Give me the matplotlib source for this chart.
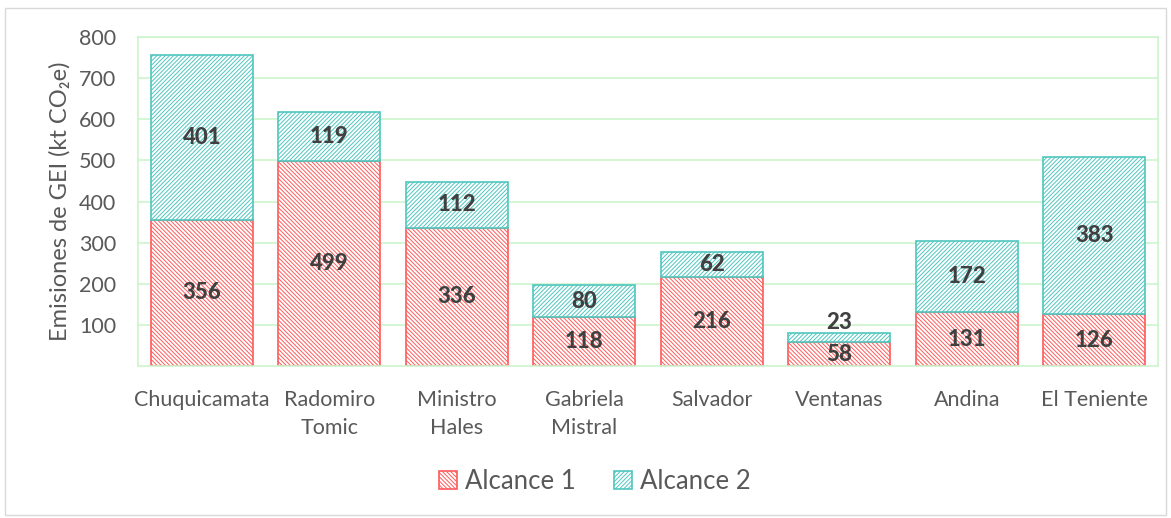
"""
Stacked bar chart of GHG emissions (Alcance 1 / Alcance 2) per division
"""

import matplotlib.pyplot as plt
from matplotlib.patches import Rectangle

# data
divisions = [
    "Chuquicamata",
    "Radomiro\nTomic",
    "Ministro\nHales",
    "Gabriela\nMistral",
    "Salvador",
    "Ventanas",
    "Andina",
    "El Teniente",
]
alcance_1 = [356, 499, 336, 118, 216, 58, 131, 126]
alcance_2 = [401, 119, 112, 80, 62, 23, 172, 383]
y_ticks = [100, 200, 300, 400, 500, 600, 700, 800]

plt.rcParams["font.family"] = ["Lato", "DejaVu Sans"]
plt.rcParams["hatch.linewidth"] = 0.7

red = "#FF5B5B"
teal = "#4FC6BE"
grid_green = "#CDF5CD"
text_grey = "#595959"

fig = plt.figure(figsize=(11.71, 5.18), dpi=100)
ax = fig.add_axes([0.118, 0.2934, 0.871, 0.6352])

x = range(len(divisions))

# plot the two stacked series
bars1 = ax.bar(x, alcance_1, width=0.8, facecolor="white", edgecolor=red,
               hatch="\\" * 8, linewidth=1.2, label="Alcance 1", zorder=2)
bars2 = ax.bar(x, alcance_2, width=0.8, bottom=alcance_1, facecolor="white",
               edgecolor=teal, hatch="/" * 8, linewidth=1.2, label="Alcance 2",
               zorder=2)

# data labels
for i in x:
    ax.text(i, alcance_1[i] / 2, str(alcance_1[i]), ha="center", va="center",
            fontsize=16, fontweight="black", color="#404040", zorder=3)
    if alcance_2[i] < 40:
        y2 = alcance_1[i] + alcance_2[i] + 25
    else:
        y2 = alcance_1[i] + alcance_2[i] / 2
    ax.text(i, y2, str(alcance_2[i]), ha="center", va="center",
            fontsize=16, fontweight="black", color="#404040", zorder=3)

# axes styling
ax.set_ylim(0, 800)
ax.set_xlim(-0.5, len(divisions) - 0.5)
ax.set_yticks(y_ticks)
ax.set_xticks(list(x))
ax.set_xticklabels(divisions, fontsize=15.5, color=text_grey, linespacing=1.5)
ax.tick_params(axis="y", labelsize=15.5, labelcolor=text_grey, length=0, pad=16)
ax.tick_params(axis="x", length=0, pad=17)
ax.yaxis.grid(True, color=grid_green, linewidth=1.2, zorder=0)
ax.set_axisbelow(True)
for side in ["left", "right", "top", "bottom"]:
    ax.spines[side].set_color(grid_green)
    ax.spines[side].set_linewidth(1.2)
ax.set_ylabel("Emisiones de GEI (kt CO₂e)", fontsize=17, color=text_grey,
              labelpad=6)

# legend
ax.legend(loc="center", bbox_to_anchor=(0.448, -0.35), ncol=2,
          frameon=False, fontsize=18.5, labelcolor=text_grey, handlelength=0.7,
          handleheight=0.7, columnspacing=1.5, handletextpad=0.3)

# outer chart border
fig.patches.append(Rectangle((5 / 1171, 3 / 518), 1161 / 1171, 507 / 518,
                             transform=fig.transFigure, fill=False,
                             edgecolor="#D9D9D9", linewidth=1))

fig.savefig("out.png", dpi=100)
